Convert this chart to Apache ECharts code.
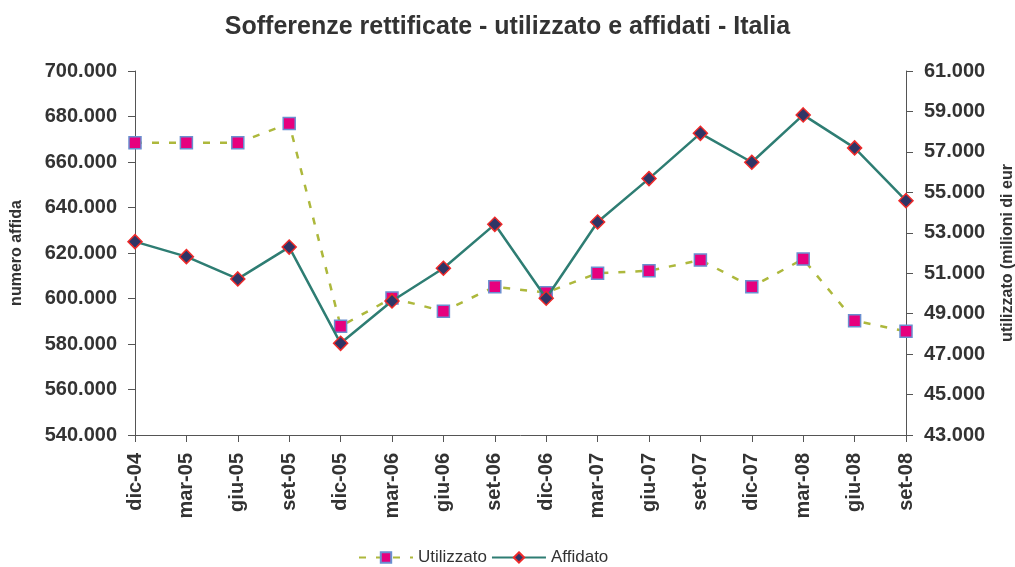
<!DOCTYPE html>
<html>
<head>
<meta charset="utf-8">
<title>Sofferenze rettificate</title>
<script src="https://cdn.jsdelivr.net/npm/echarts@6/dist/echarts.min.js"></script>
<style>
  html, body { margin: 0; padding: 0; background: #fff; }
  #chart { width: 1015px; height: 567px; }
</style>
</head>
<body>
<div id="chart"></div>
<script>
const categories = ['dic-04', 'mar-05', 'giu-05', 'set-05', 'dic-05', 'mar-06', 'giu-06', 'set-06',
    'dic-06', 'mar-07', 'giu-07', 'set-07', 'dic-07', 'mar-08', 'giu-08', 'set-08']

// numero affidati (asse sinistro)
const affidato = [625000, 618400, 608600, 622600, 580300, 598900, 613300, 632600,
    600100, 633600, 652700, 672600, 659900, 680700, 666200, 643000]

// utilizzato, milioni di euro (asse destro)
const utilizzato = [57450, 57450, 57450, 58410, 48380, 49770, 49120, 50330,
    50040, 51000, 51120, 51650, 50330, 51700, 48650, 48130]

const fontFamily = '"Liberation Sans", Arial, sans-serif'
const textColor = '#333'
const axisColor = '#555'

// formato italiano: 700.000
const fmt = (v) => String(Math.round(v)).replace(/\B(?=(\d{3})+(?!\d))/g, '.')

const chart = echarts.init(document.getElementById('chart'))

const valueAxis = (extra) => Object.assign({
    type: 'value',
    nameLocation: 'middle',
    nameRotate: 90,
    nameTextStyle: { fontSize: 16, fontWeight: 'bold', color: textColor },
    axisLine: { show: true, lineStyle: { color: axisColor } },
    axisTick: { show: true, length: 7, lineStyle: { color: axisColor } },
    axisLabel: {
        formatter: fmt,
        fontSize: 20,
        fontWeight: 'bold',
        color: textColor,
        margin: 18
    },
    splitLine: { show: false }
}, extra)

const option = {
    backgroundColor: '#fff',
    animation: false,
    textStyle: { fontFamily: fontFamily },
    title: {
        text: 'Sofferenze rettificate - utilizzato e affidati - Italia',
        left: 'center',
        top: 10,
        textStyle: { fontSize: 25, fontWeight: 'bold', color: textColor, fontFamily: fontFamily }
    },
    legend: {
        bottom: -4,
        left: 353,
        itemWidth: 54,
        itemHeight: 13,
        itemGap: 4,
        textStyle: { fontSize: 17, color: textColor, fontFamily: fontFamily },
        data: ['Utilizzato', 'Affidato']
    },
    grid: { left: 135, right: 109, top: 71, bottom: 132, outerBoundsMode: 'none', containLabel: false },
    xAxis: {
        type: 'category',
        data: categories,
        boundaryGap: false,
        axisLine: { lineStyle: { color: axisColor, width: 1 } },
        axisTick: { show: true, alignWithLabel: true, length: 7, lineStyle: { color: axisColor } },
        axisLabel: {
            rotate: 90,
            margin: 18,
            fontSize: 20,
            fontWeight: 'bold',
            color: textColor,
            interval: 0
        },
        splitLine: { show: false }
    },
    yAxis: [
        valueAxis({
            min: 540000,
            max: 700000,
            interval: 20000,
            name: 'numero affidati',
            nameGap: 110,
            nameTruncate: { maxWidth: 108, ellipsis: '' }
        }),
        valueAxis({
            min: 43000,
            max: 61000,
            interval: 2000,
            name: 'utilizzato (milioni di euro)',
            nameGap: 94,
            nameTruncate: { maxWidth: 186, ellipsis: '' }
        })
    ],
    series: [
        {
            name: 'Utilizzato',
            type: 'line',
            yAxisIndex: 1,
            data: utilizzato,
            symbol: 'rect',
            symbolSize: 12,
            lineStyle: { color: '#adb83c', width: 2.5, type: [7, 10] },
            itemStyle: { color: '#e6007e', borderColor: '#6a8fd0', borderWidth: 1.5 },
            z: 2
        },
        {
            name: 'Affidato',
            type: 'line',
            yAxisIndex: 0,
            data: affidato,
            symbol: 'diamond',
            symbolSize: 14,
            lineStyle: { color: '#2e7d73', width: 2.5 },
            itemStyle: { color: '#2f3566', borderColor: '#ee2a2a', borderWidth: 1.5 },
            z: 3
        }
    ]
}

chart.setOption(option)
window.addEventListener('resize', () => chart.resize())
</script>
</body>
</html>
